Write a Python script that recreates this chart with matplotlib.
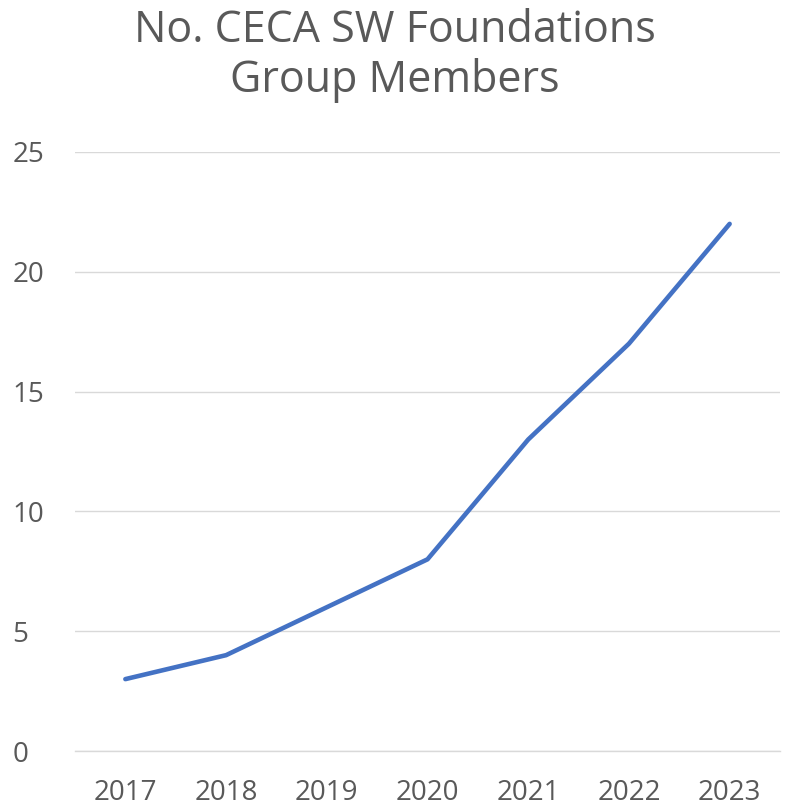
import matplotlib
matplotlib.use("Agg")
import matplotlib.pyplot as plt

# data
years = ["2017", "2018", "2019", "2020", "2021", "2022", "2023"]
members = [3, 4, 6, 8, 13, 17, 22]
y_ticks = [0, 5, 10, 15, 20, 25]
title_lines = ["No. CECA SW Foundations", "Group Members"]

plt.rcParams['font.family'] = ['Open Sans', 'DejaVu Sans']

fig = plt.figure(figsize=(7.89, 8.05), dpi=100)
ax = fig.add_axes([75 / 789, 1 - 751 / 805, 705 / 789, 599 / 805])

ax.plot(range(len(years)), members, color="#4472C4", linewidth=3.3,
        solid_capstyle="round", solid_joinstyle="round", zorder=3)

ax.set_xlim(-0.5, len(years) - 0.5)
ax.set_ylim(0, 25)
ax.set_xticks(range(len(years)))
ax.set_xticklabels(years)
ax.set_yticks(y_ticks)

ax.grid(axis="y", color="#D9D9D9", linewidth=1)
ax.set_axisbelow(True)
for s in ["top", "right", "left"]:
    ax.spines[s].set_visible(False)
ax.spines["bottom"].set_color("#D9D9D9")
ax.spines["bottom"].set_linewidth(1)

ax.tick_params(axis="both", length=0, labelsize=20, labelcolor="#595959")
ax.tick_params(axis="x", pad=20)
ax.tick_params(axis="y", pad=45)
for lab in ax.get_yticklabels():
    lab.set_horizontalalignment("left")

# two title lines placed by baseline
fig.text(0.5, 1 - 42 / 805, title_lines[0], ha="center", va="baseline",
         fontsize=31, color="#595959")
fig.text(0.5, 1 - 92 / 805, title_lines[1], ha="center", va="baseline",
         fontsize=31, color="#595959")

fig.savefig("out.png", dpi=100)
